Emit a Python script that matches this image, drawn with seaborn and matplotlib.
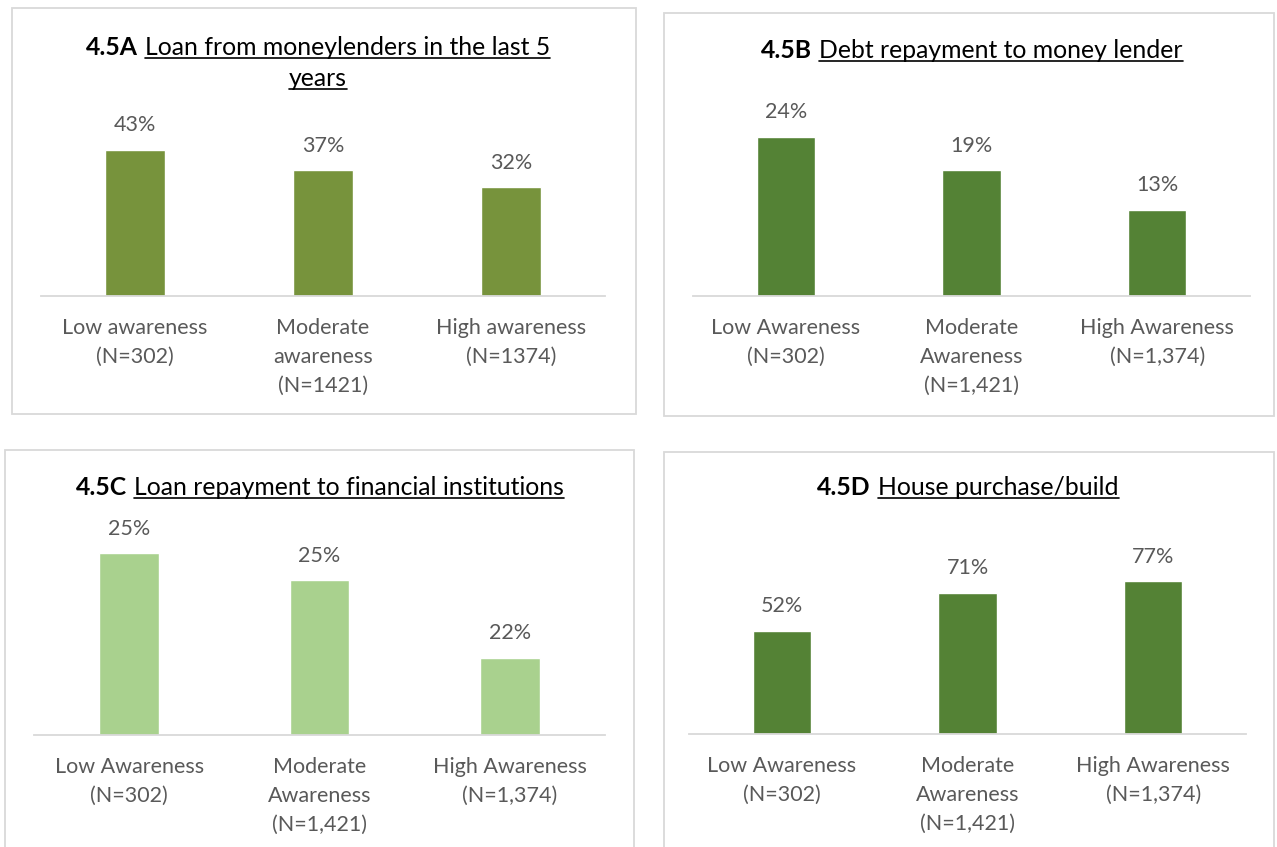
import matplotlib
matplotlib.use("Agg")
import matplotlib.pyplot as plt
from matplotlib.patches import Rectangle
from matplotlib.lines import Line2D
import seaborn as sns

W, H, DPI = 1277, 847, 100

sns.set_theme(style="white")
plt.rcParams["font.family"] = ["Lato", "DejaVu Sans"]

# ---- data -------------------------------------------------------------
groups_a = ["Low awareness\n(N=302)", "Moderate\nawareness\n(N=1421)",
            "High awareness\n(N=1374)"]
groups_bcd = ["Low Awareness\n(N=302)", "Moderate\nAwareness\n(N=1,421)",
              "High Awareness\n(N=1,374)"]

loan_moneylenders = [43, 37, 32]
debt_repayment_lender = [24, 19, 13]
loan_repayment_fi = [25.4, 24.6, 22.3]
house_purchase = [52, 71, 77]

prefixes = ["4.5A", "4.5B", "4.5C", "4.5D"]
titles = [
    ["Loan from moneylenders in the last 5", "years"],
    ["Debt repayment to money lender"],
    ["Loan repayment to financial institutions"],
    ["House purchase/build"],
]

OLIVE = "#77933C"
GREEN = "#548235"
LIGHT = "#A9D18E"
TXT = "#595959"
FS = 15.5
TITLE_FS = 17.8

# panel layout in pixels (top-left origin)
panels = [
    dict(vals=loan_moneylenders, cats=groups_a, color=OLIVE, box=(12, 8, 636, 414),
         ax=(41, 605, 126, 296), ylim=(0, 50), title_cx=318, title_base=55),
    dict(vals=debt_repayment_lender, cats=groups_bcd, color=GREEN, box=(664, 13, 1274, 416),
         ax=(693, 1250, 97, 296), ylim=(0, 30), title_cx=972, title_base=58),
    dict(vals=loan_repayment_fi, cats=groups_bcd, color=LIGHT, box=(5, 450, 634, 852),
         ax=(34, 605, 533, 735), ylim=(20, 26), title_cx=320, title_base=495),
    dict(vals=house_purchase, cats=groups_bcd, color=GREEN, box=(664, 452, 1274, 852),
         ax=(689, 1246, 555, 734), ylim=(0, 90), title_cx=968, title_base=495),
]


def fx(x):
    return x / W


def fy(y):
    return 1 - y / H


fig = plt.figure(figsize=(W / DPI, H / DPI), dpi=DPI)
fig.patch.set_facecolor("white")
renderer = fig.canvas.get_renderer()


def draw_title(prefix, lines, cx, base, gap=31):
    for j, line in enumerate(lines):
        yb = base + j * gap
        tb = fig.text(0, fy(yb), line, fontsize=TITLE_FS, color="black", va="baseline",
                      ha="left", transform=fig.transFigure)
        wb = tb.get_window_extent(renderer).width
        wp, sp = 0, 0
        tp = None
        if j == 0:
            tp = fig.text(0, fy(yb), prefix, fontsize=TITLE_FS, weight="bold",
                          color="black", va="baseline", ha="left",
                          transform=fig.transFigure)
            wp = tp.get_window_extent(renderer).width
            sp = 7
        x0 = cx - (wp + sp + wb) / 2
        if tp is not None:
            tp.set_x(fx(x0))
        xb = x0 + wp + sp
        tb.set_x(fx(xb))
        fig.add_artist(Line2D([fx(xb), fx(xb + wb)], [fy(yb + 3), fy(yb + 3)],
                              color="black", lw=1.2, transform=fig.transFigure))


for p, prefix, title in zip(panels, prefixes, titles):
    bx0, by0, bx1, by1 = p["box"]
    fig.add_artist(Rectangle((fx(bx0), fy(by1)), fx(bx1 - bx0), (by1 - by0) / H,
                             transform=fig.transFigure, fill=False,
                             edgecolor="#D9D9D9", lw=1.3))
    x0, x1, ytop, ybase = p["ax"]
    ax = fig.add_axes([fx(x0), fy(ybase), fx(x1 - x0), (ybase - ytop) / H])
    sns.barplot(x=p["cats"], y=p["vals"], color=p["color"], width=0.315,
                saturation=1, ax=ax)
    ax.set_xlim(-0.5, 2.5)
    ax.set_ylim(*p["ylim"])
    ax.patch.set_alpha(0)
    for s in ["top", "left", "right"]:
        ax.spines[s].set_visible(False)
    ax.spines["bottom"].set_color("#D9D9D9")
    ax.spines["bottom"].set_linewidth(1.3)
    ax.set_yticks([])
    ax.tick_params(axis="x", length=0, pad=16, labelsize=FS, labelcolor=TXT)
    for lab in ax.get_xticklabels():
        lab.set_linespacing(1.55)
    for i, v in enumerate(p["vals"]):
        ax.annotate(f"{v:.0f}%", (i, v), xytext=(0, 17.5), textcoords="offset points",
                    ha="center", va="center", fontsize=FS, color=TXT,
                    annotation_clip=False)
    draw_title(prefix, title, p["title_cx"], p["title_base"])

fig.savefig("out.png", dpi=DPI, facecolor="white")
